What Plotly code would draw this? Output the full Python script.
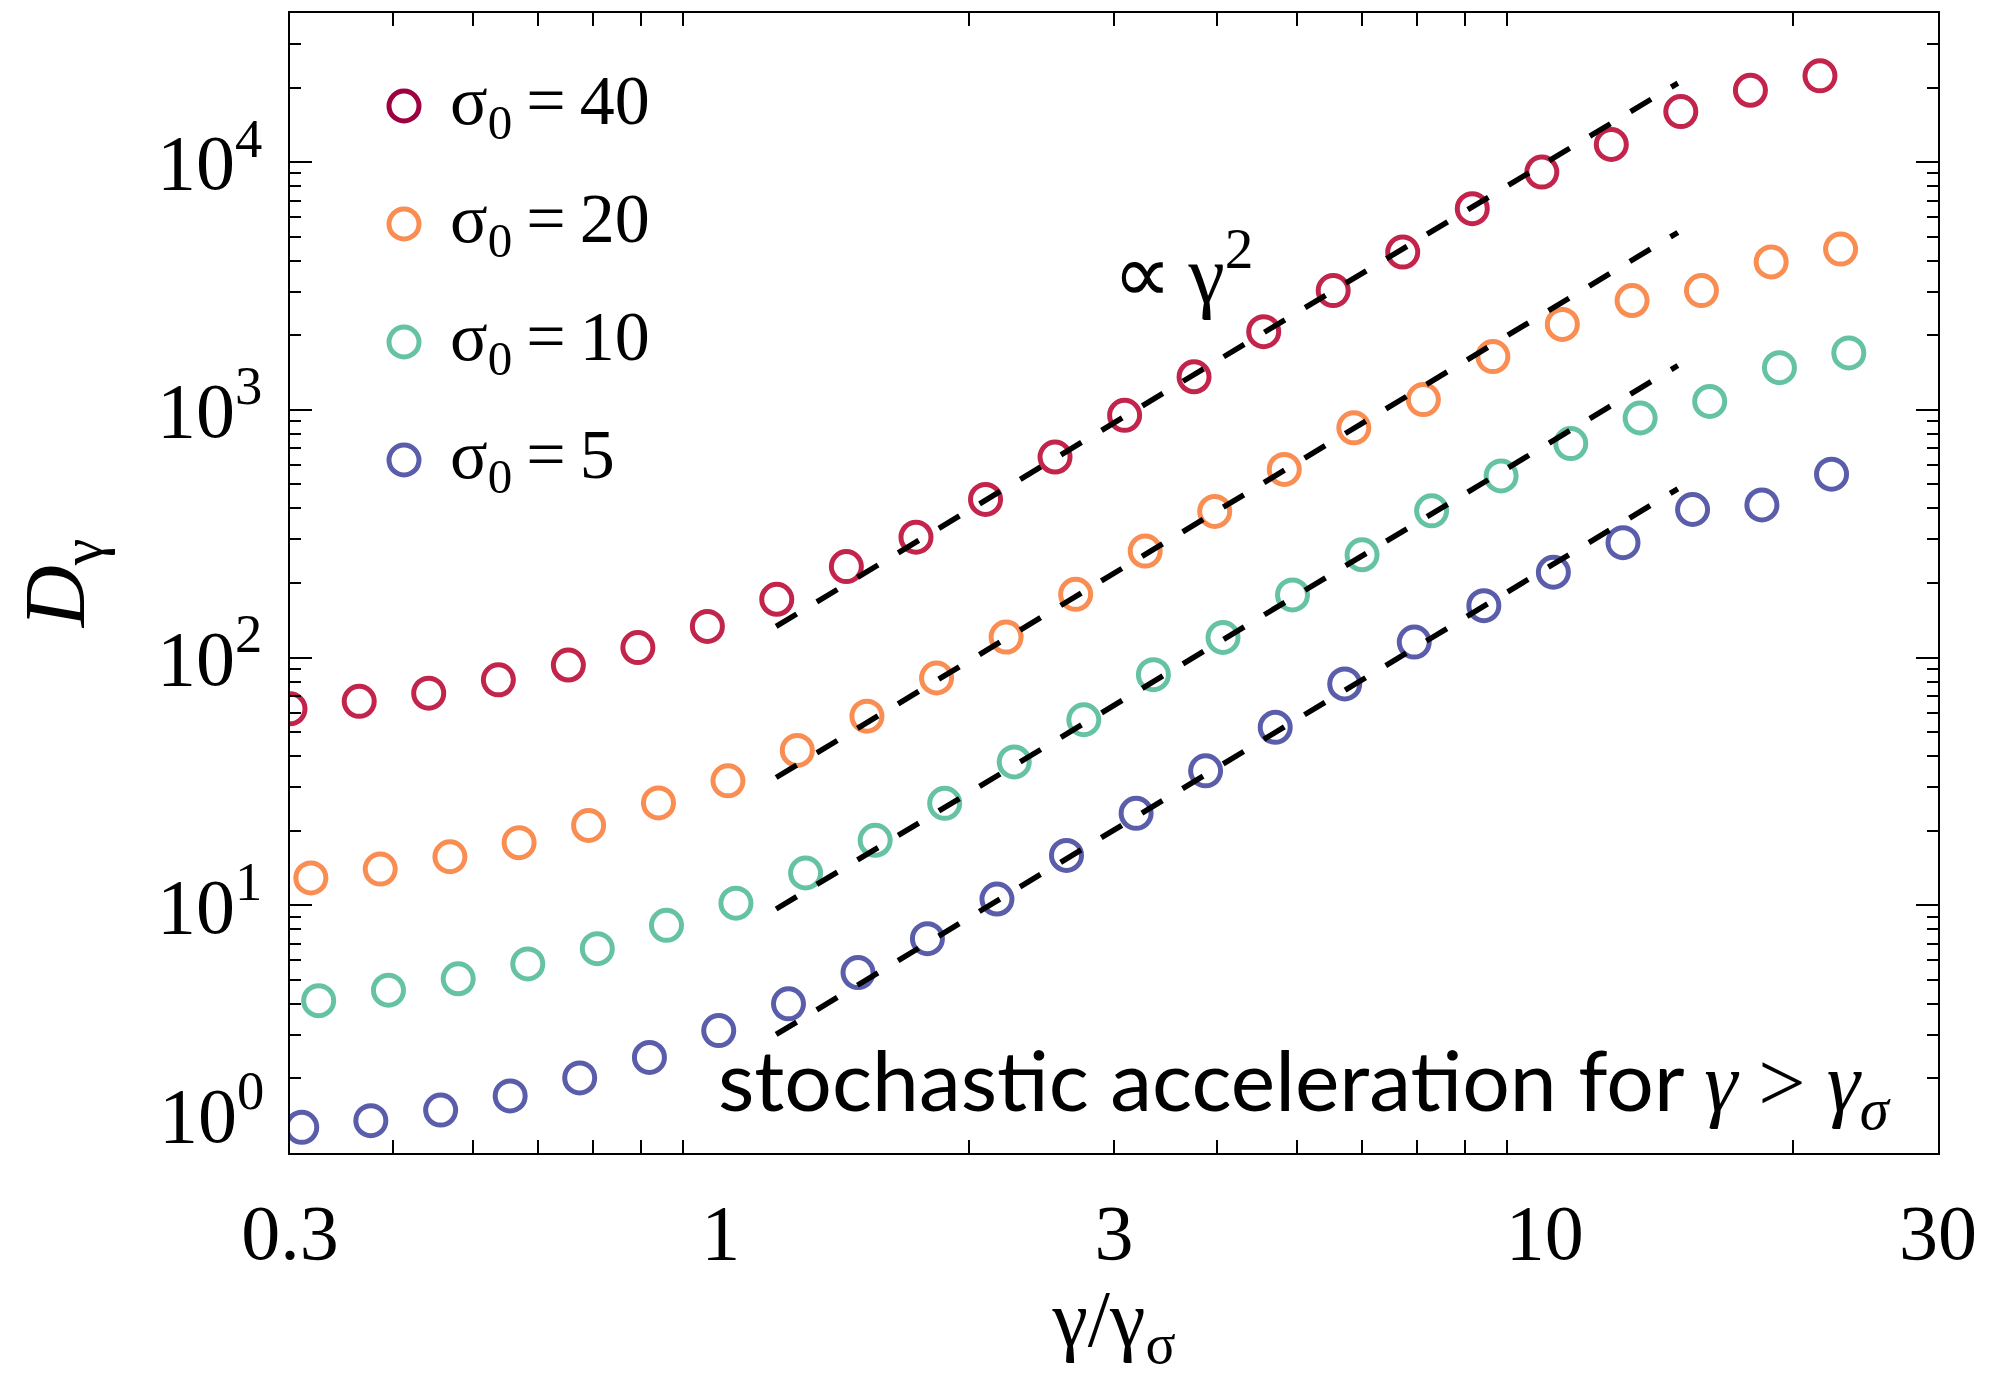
import plotly.graph_objects as go

# gamma / gamma_sigma sampled for each magnetisation run
x_s40 = [0.300, 0.364, 0.442, 0.537, 0.653, 0.793, 0.963, 1.169, 1.420, 1.725, 2.095, 2.544,
         3.090, 3.752, 4.558, 5.535, 6.722, 8.164, 9.915, 12.04, 14.62, 17.76, 21.57]
x_s20 = [0.318, 0.386, 0.469, 0.569, 0.691, 0.840, 1.020, 1.238, 1.504, 1.827, 2.219, 2.695,
         3.273, 3.975, 4.828, 5.863, 7.121, 8.648, 10.50, 12.76, 15.49, 18.82, 22.85]
x_s10 = [0.325, 0.395, 0.480, 0.583, 0.708, 0.859, 1.043, 1.267, 1.539, 1.869, 2.270, 2.757,
         3.349, 4.068, 4.940, 6.000, 7.287, 8.849, 10.75, 13.05, 15.85, 19.26, 23.38]
x_s5 = [0.310, 0.376, 0.457, 0.555, 0.674, 0.819, 0.994, 1.208, 1.467, 1.781, 2.163, 2.627,
        3.191, 3.875, 4.707, 5.716, 6.942, 8.432, 10.24, 12.44, 15.11, 18.34, 22.28]

# energy diffusion coefficient D_gamma
d_s40 = [62.1, 66.6, 71.8, 81.3, 93.3, 109.7, 133.6, 171.9, 233, 306, 435, 645,
         950, 1360, 2069, 3030, 4335, 6490, 9120, 11780, 16000, 19500, 22300]
d_s20 = [12.9, 14.0, 15.7, 17.9, 21.0, 25.9, 31.8, 42.2, 58.0, 82.7, 121, 180,
         269, 389, 575, 846, 1100, 1640, 2213, 2763, 3030, 3953, 4457]
d_s10 = [4.12, 4.54, 5.05, 5.80, 6.68, 8.30, 10.2, 13.5, 18.3, 25.8, 37.9, 56.1,
         85.3, 120.5, 179, 260, 391, 541, 731, 927, 1081, 1479, 1698]
d_s5 = [1.27, 1.35, 1.49, 1.70, 2.01, 2.43, 3.12, 4.00, 5.35, 7.33, 10.6, 15.9,
        23.5, 34.9, 52.3, 78.3, 115.5, 162, 221, 291, 396, 413, 550]

# D ∝ gamma^2 reference segments (end points)
guide_x = [1.167, 14.5]
guide_s40 = [133.6, 20840]
guide_s20 = [32.8, 5200]
guide_s10 = [9.66, 1510]
guide_s5 = [3.01, 480]

labels = ["40", "20", "10", "5"]
point_colors = ["#C2244B", "#F98D52", "#66C2A5", "#5A5DAA"]
key_colors = ["#9E0142", "#F98D52", "#66C2A5", "#5A5DAA"]

x_tickvals = [0.3, 1, 3, 10, 30]
x_ticktext = ["0.3", "1", "3", "10", "30"]
y_tickvals = [1, 10, 100, 1000, 10000]
# the lowest decade label is set separately so it sits above the frame corner
y_ticktext = ["", "10<sup>1</sup>", "10<sup>2</sup>", "10<sup>3</sup>", "10<sup>4</sup>"]
y_bottom_label = "10<sup>0</sup>"

SERIF = "Liberation Serif"
SANS = "Lato"
W, H = 1997, 1375
ML, MR, MT, MB = 290, 59, 13, 222
PW, PH = W - ML - MR, H - MT - MB


def px_to_paper(px, py):
    return (px - ML) / PW, (H - MB - py) / PH


fig = go.Figure()

series = [(x_s40, d_s40), (x_s20, d_s20), (x_s10, d_s10), (x_s5, d_s5)]
for (xs, ds), col, lab in zip(series, point_colors, labels):
    fig.add_trace(go.Scatter(
        x=xs, y=ds, mode="markers", name="σ0 = " + lab, showlegend=False,
        marker=dict(symbol="circle-open", size=30, color=col, line=dict(width=5, color=col)),
    ))

for gy in (guide_s40, guide_s20, guide_s10, guide_s5):
    fig.add_trace(go.Scatter(
        x=guide_x, y=gy, mode="lines", showlegend=False,
        line=dict(color="black", width=5.5, dash="24px,23.5px"),
    ))

# minor tick positions
x_minor = [0.4, 0.5, 0.6, 0.7, 0.8, 0.9, 2, 3, 4, 5, 6, 7, 8, 9, 20]
y_minor = [m * 10 ** e for e in range(0, 5) for m in range(2, 10) if m * 10 ** e < 4e4]

fig.update_layout(
    width=W, height=H,
    margin=dict(l=ML, r=MR, t=MT, b=MB, pad=0),
    paper_bgcolor="white", plot_bgcolor="white",
    showlegend=False,
    font=dict(family=SERIF, color="black"),
    xaxis=dict(
        type="log", range=[-0.5229, 1.4771], showgrid=False, zeroline=False,
        showline=True, linewidth=2, linecolor="black", mirror="ticks",
        tickmode="array", tickvals=x_tickvals, ticktext=x_ticktext, ticks="",
        tickfont=dict(family=SERIF, size=78, color="black"), ticklabelstandoff=10,
        minor=dict(tickmode="array", tickvals=x_minor, ticks="inside", ticklen=13,
                   tickwidth=2, tickcolor="black", showgrid=False),
        title=dict(text="γ/γ<sub>σ</sub>", font=dict(family=SERIF, size=80, color="black"), standoff=44),
        automargin=False,
    ),
    xaxis2=dict(
        type="log", range=[-0.5229, 1.4771], overlaying="x", anchor="y", side="bottom",
        showgrid=False, zeroline=False, showline=False, mirror="ticks",
        tickmode="array", tickvals=[1, 10], ticks="inside", ticklen=27, tickwidth=2,
        tickcolor="black", showticklabels=False, automargin=False,
    ),
    yaxis=dict(
        type="log", range=[0, 4.602], showgrid=False, zeroline=False,
        showline=True, linewidth=2, linecolor="black", mirror="ticks",
        tickmode="array", tickvals=y_tickvals, ticktext=y_ticktext,
        ticks="inside", ticklen=22, tickwidth=2, tickcolor="black",
        tickfont=dict(family=SERIF, size=78, color="black"), ticklabelstandoff=10,
        minor=dict(tickmode="array", tickvals=y_minor, ticks="inside", ticklen=11,
                   tickwidth=2, tickcolor="black", showgrid=False),
        title=dict(text="<i>D</i><sub>γ</sub>", font=dict(family=SERIF, size=86, color="black"), standoff=44),
        automargin=False,
    ),
)

annotations = []
shapes = []

# lowest y-axis label, raised to sit on the bottom edge
bx, by = px_to_paper(265, 1160)
annotations.append(dict(
    xref="paper", yref="paper", x=bx, y=by, xanchor="right", yanchor="bottom",
    text=y_bottom_label, showarrow=False, borderpad=0,
    font=dict(family=SERIF, size=78, color="black"),
))

# key: open circles with labels
key_y = [106, 224, 342, 460]
for ky, col, lab in zip(key_y, key_colors, labels):
    kx, kyp = px_to_paper(404, ky)
    shapes.append(dict(
        type="circle", xref="paper", yref="paper", xsizemode="pixel", ysizemode="pixel",
        xanchor=kx, yanchor=kyp, x0=-15, x1=15, y0=-15, y1=15,
        line=dict(color=col, width=5), fillcolor="rgba(0,0,0,0)",
    ))
    tx, _ = px_to_paper(448, ky)
    annotations.append(dict(
        xref="paper", yref="paper", x=tx, y=kyp, xanchor="left", yanchor="middle",
        text="σ<sub>0</sub>\u2009=\u2009" + lab, showarrow=False,
        font=dict(family=SERIF, size=70, color="black"),
    ))

ax_, ay_ = px_to_paper(1183, 268)
annotations.append(dict(
    xref="paper", yref="paper", x=ax_, y=ay_, xanchor="center", yanchor="middle",
    text="∝\u2009γ<sup>2</sup>", showarrow=False,
    font=dict(family=SERIF, size=82, color="black"),
))

sx, sy = px_to_paper(716, 1085)
annotations.append(dict(
    xref="paper", yref="paper", x=sx, y=sy, xanchor="left", yanchor="middle",
    text=("stochastic acceleration for "
          "<span style=\"font-family:'Liberation Serif'\"><i>γ</i> > <i>γ</i><sub><i>σ</i></sub></span>"),
    showarrow=False,
    font=dict(family=SANS, size=84, color="black"),
))

fig.update_layout(shapes=shapes, annotations=annotations)

fig.write_html("out.html")
